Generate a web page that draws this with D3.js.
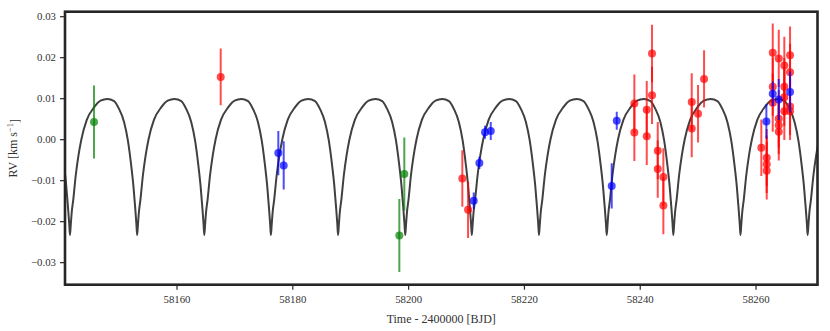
<!DOCTYPE html>
<html>
<head>
<meta charset="utf-8">
<script src="https://cdn.jsdelivr.net/npm/d3@7"></script>
<style>
  body { margin: 0; background: #fff; }
  svg text { font-family: "Liberation Serif", "DejaVu Serif", serif; fill: #333; }
</style>
</head>
<body>
<svg id="chart"></svg>
<script>
// chart size and plot frame
var screenWidth = 830,
    screenHeight = 331,
    frame = {"left": 65, "right": 817.5, "top": 11.7, "bottom": 284.7};

// tick values
var xTicks = [58160, 58180, 58200, 58220, 58240, 58260];
var yTicks = [-0.03, -0.02, -0.01, 0.00, 0.01, 0.02, 0.03];

// green instrument
var greenTime = [58145.75, 58198.48, 58199.34];
var greenRV   = [0.0042, -0.0235, -0.0085];
var greenErr  = [0.0089, 0.0089, 0.0089];

// blue instrument
var blueTime = [58177.58, 58178.51, 58211.33, 58212.30, 58213.28, 58214.27,
                58235.16, 58236.03, 58261.87, 58262.97, 58264.01, 58265.96];
var blueRV   = [-0.0034, -0.0064, -0.0150, -0.0058, 0.0017, 0.0020,
                -0.0114, 0.0045, 0.0043, 0.0111, 0.0097, 0.0115];
var blueErr  = [0.0054, 0.0059, 0.0020, 0.0015, 0.0016, 0.0022,
                0.0055, 0.0022, 0.0042, 0.0030, 0.0050, 0.0050];

// red instrument
var redTime = [58167.63, 58209.36, 58210.35,
               58239.07, 58239.07, 58241.21, 58241.21, 58242.12, 58242.12,
               58243.11, 58243.11, 58244.08, 58244.08,
               58248.98, 58248.98, 58250.07, 58251.11,
               58261.00, 58261.93, 58261.93, 58261.93,
               58262.97, 58262.97, 58262.97,
               58264.01, 58264.01, 58264.01, 58264.01,
               58264.97, 58264.97, 58264.97, 58264.97,
               58265.96, 58265.96, 58265.96, 58265.96];
var redRV   = [0.0152, -0.0096, -0.0172,
               0.0087, 0.0016, 0.0072, 0.0007, 0.0209, 0.0107,
               -0.0028, -0.0073, -0.0092, -0.0162,
               0.0091, 0.0026, 0.0062, 0.0147,
               -0.0021, -0.0045, -0.0061, -0.0077,
               0.0211, 0.0128, 0.0089,
               0.0197, 0.0050, 0.0034, 0.0018,
               0.0180, 0.0128, 0.0102, 0.0068,
               0.0205, 0.0163, 0.0080, 0.0068];
var redErr  = [0.0069, 0.0069, 0.0069,
               0.0071, 0.0069, 0.0070, 0.0070, 0.0070, 0.0070,
               0.0070, 0.0070, 0.0070, 0.0070,
               0.0070, 0.0070, 0.0070, 0.0070,
               0.0069, 0.0070, 0.0070, 0.0070,
               0.0071, 0.0071, 0.0071,
               0.0070, 0.0070, 0.0070, 0.0070,
               0.0070, 0.0070, 0.0070, 0.0070,
               0.0070, 0.0070, 0.0070, 0.0070];

// model curve: times of each minimum and the shape of one cycle (phase, RV)
var modelMinima = [58130.0, 58141.6, 58153.2, 58164.8, 58176.3, 58187.9, 58199.5,
                   58211.0, 58222.6, 58234.3, 58245.8, 58257.4, 58269.0, 58280.6];
var cyclePhase = [0, 0.012, 0.025, 0.05, 0.086, 0.126, 0.17, 0.25, 0.36, 0.455,
                  0.556, 0.657, 0.73, 0.805, 0.862, 0.91, 0.945, 0.97, 0.988];
var cycleRV    = [-0.0234, -0.0208, -0.0180, -0.0146, -0.0088, -0.0040, 0.0000, 0.0047, 0.0078, 0.0094,
                  0.0098, 0.0093, 0.0074, 0.0042, -0.0003, -0.0062, -0.0115, -0.0165, -0.0205];

var xScale = d3.scaleLinear()
               .domain([58140.74, 58270.7])
               .range([frame.left, frame.right]),
    yScale = d3.scaleLinear()
               .domain([-0.0355, 0.0311])
               .range([frame.bottom, frame.top]);

var svg = d3.select('#chart')
            .attr('width', screenWidth)
            .attr('height', screenHeight);

svg.append("clipPath")
   .attr("id", "plotClip")
   .append("rect")
   .attr("x", frame.left)
   .attr("y", frame.top)
   .attr("width", frame.right - frame.left)
   .attr("height", frame.bottom - frame.top);

// build the model points from the cycle shape
var modelPoints = [];
for (var k = 0; k < modelMinima.length - 1; k++) {
  var t0 = modelMinima[k], t1 = modelMinima[k + 1];
  cyclePhase.forEach(function(p, i) {
    modelPoints.push([t0 + p * (t1 - t0), cycleRV[i]]);
  });
}
modelPoints.push([modelMinima[modelMinima.length - 1], cycleRV[0]]);

var plot = svg.append("g").attr("clip-path", "url(#plotClip)");

plot.append("path")
    .datum(modelPoints)
    .attr("fill", "none")
    .attr("stroke", "#404040")
    .attr("stroke-width", 2)
    .attr("d", d3.line()
                 .x(function(d) { return xScale(d[0]); })
                 .y(function(d) { return yScale(d[1]); })
                 .curve(d3.curveMonotoneX));

function drawSeries(times, rvs, errs, colour) {
  var data = times.map(function(t, i) { return {t: t, rv: rvs[i], err: errs[i]}; });
  var g = plot.append("g");
  g.selectAll("line")
   .data(data)
   .enter().append("line")
   .attr("x1", function(d) { return xScale(d.t); })
   .attr("x2", function(d) { return xScale(d.t); })
   .attr("y1", function(d) { return yScale(d.rv - d.err); })
   .attr("y2", function(d) { return yScale(d.rv + d.err); })
   .attr("stroke", colour)
   .attr("stroke-width", 2)
   .attr("stroke-opacity", 0.7);
  g.selectAll("circle")
   .data(data)
   .enter().append("circle")
   .attr("cx", function(d) { return xScale(d.t); })
   .attr("cy", function(d) { return yScale(d.rv); })
   .attr("r", 4)
   .attr("fill", colour)
   .attr("fill-opacity", 0.7);
}

drawSeries(greenTime, greenRV, greenErr, "green");
drawSeries(redTime, redRV, redErr, "red");
drawSeries(blueTime, blueRV, blueErr, "blue");

// axes
var xAxis = d3.axisBottom(xScale).tickValues(xTicks).tickSize(5).tickPadding(6)
              .tickFormat(d3.format("d"));
var yAxis = d3.axisLeft(yScale).tickValues(yTicks).tickSize(5).tickPadding(4)
              .tickFormat(d3.format(".2f"));

var gx = svg.append("g")
   .attr("transform", "translate(0," + frame.bottom + ")")
   .call(xAxis);
var gy = svg.append("g")
   .attr("transform", "translate(" + frame.left + ",0)")
   .call(yAxis);

[gx, gy].forEach(function(g) {
  g.select(".domain").remove();
  g.selectAll(".tick line").attr("stroke", "#262626").attr("stroke-width", 1.2);
  g.selectAll(".tick text").style("font-size", "10.8px").attr("fill", "#333");
});

// frame
svg.append("rect")
   .attr("x", frame.left)
   .attr("y", frame.top)
   .attr("width", frame.right - frame.left)
   .attr("height", frame.bottom - frame.top)
   .attr("fill", "none")
   .attr("stroke", "#262626")
   .attr("stroke-width", 2.6);

// axis labels
svg.append("text")
   .attr("x", (frame.left + frame.right) / 2)
   .attr("y", 323)
   .style("text-anchor", "middle")
   .style("font-size", "12px")
   .text("Time - 2400000 [BJD]");

var ylab = svg.append("text")
   .attr("transform", "translate(17," + ((frame.top + frame.bottom) / 2) + ") rotate(-90)")
   .style("text-anchor", "middle")
   .style("font-size", "12px");
ylab.append("tspan").text("RV [km s");
ylab.append("tspan").attr("dy", "-0.45em").style("font-size", "8.5px").text("\u22121");
ylab.append("tspan").attr("dy", "0.45em").text("]");
</script>
</body>
</html>
